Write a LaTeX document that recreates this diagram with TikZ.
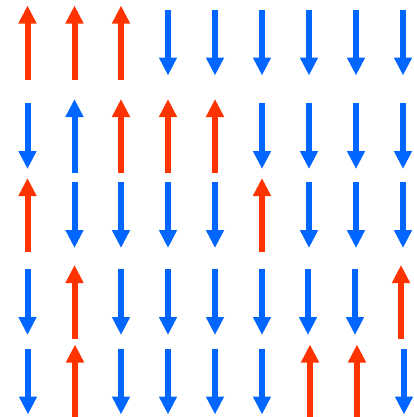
\documentclass[tikz,border=0pt]{standalone}
\usepackage{tikz}
\usetikzlibrary{arrows.meta}
\usepackage{xcolor}
\definecolor{upred}{RGB}{255,51,0}
\definecolor{downblue}{RGB}{0,102,255}

\begin{document}
\begin{tikzpicture}[x=0.03cm, y=-0.03cm,
  upspin/.style={draw=upred, line width=0.18cm,
    -{Triangle[length=0.54cm, width=0.51cm]}},
  downspin/.style={draw=downblue, line width=0.18cm,
    -{Triangle[length=0.54cm, width=0.51cm]}}]
  \useasboundingbox (0,0) rectangle (413,417);

  % row 1
  \draw[upspin] (27.5,79.5) -- (27.5,5.5);
  \draw[upspin] (74.5,79.5) -- (74.5,5.5);
  \draw[upspin] (121,79.5) -- (121,5.5);
  \draw[downspin] (168,9.5) -- (168,75.5);
  \draw[downspin] (215,9.5) -- (215,75.5);
  \draw[downspin] (262,9.5) -- (262,75.5);
  \draw[downspin] (309,9.5) -- (309,75.5);
  \draw[downspin] (356,9.5) -- (356,75.5);
  \draw[downspin] (403,9.5) -- (403,75.5);

  % row 2
  \draw[downspin] (27.5,103) -- (27.5,169);
  \draw[downspin] (74.5,173) -- (74.5,99);
  \draw[upspin] (121,173) -- (121,99);
  \draw[upspin] (168,173) -- (168,99);
  \draw[upspin] (215,173) -- (215,99);
  \draw[downspin] (262,103) -- (262,169);
  \draw[downspin] (309,103) -- (309,169);
  \draw[downspin] (356,103) -- (356,169);
  \draw[downspin] (403,103) -- (403,169);

  % row 3
  \draw[upspin] (27.5,252) -- (27.5,178);
  \draw[downspin] (74.5,182) -- (74.5,248);
  \draw[downspin] (121,182) -- (121,248);
  \draw[downspin] (168,182) -- (168,248);
  \draw[downspin] (215,182) -- (215,248);
  \draw[upspin] (262,252) -- (262,178);
  \draw[downspin] (309,182) -- (309,248);
  \draw[downspin] (356,182) -- (356,248);
  \draw[downspin] (403,182) -- (403,248);

  % row 4
  \draw[downspin] (27.5,269) -- (27.5,335);
  \draw[upspin] (74.5,339) -- (74.5,265);
  \draw[downspin] (121,269) -- (121,335);
  \draw[downspin] (168,269) -- (168,335);
  \draw[downspin] (215,269) -- (215,335);
  \draw[downspin] (262,269) -- (262,335);
  \draw[downspin] (308,269) -- (308,335);
  \draw[downspin] (355,269) -- (355,335);
  \draw[upspin] (401,339) -- (401,265);

  % row 5
  \draw[downspin] (28,348.5) -- (28,414.5);
  \draw[upspin] (75,418.5) -- (75,344.5);
  \draw[downspin] (121,348.5) -- (121,414.5);
  \draw[downspin] (168,348.5) -- (168,414.5);
  \draw[downspin] (215,348.5) -- (215,414.5);
  \draw[downspin] (262,348.5) -- (262,414.5);
  \draw[upspin] (310,418.5) -- (310,344.5);
  \draw[upspin] (357,418.5) -- (357,344.5);
  \draw[downspin] (404,348.5) -- (404,414.5);
\end{tikzpicture}
\end{document}
